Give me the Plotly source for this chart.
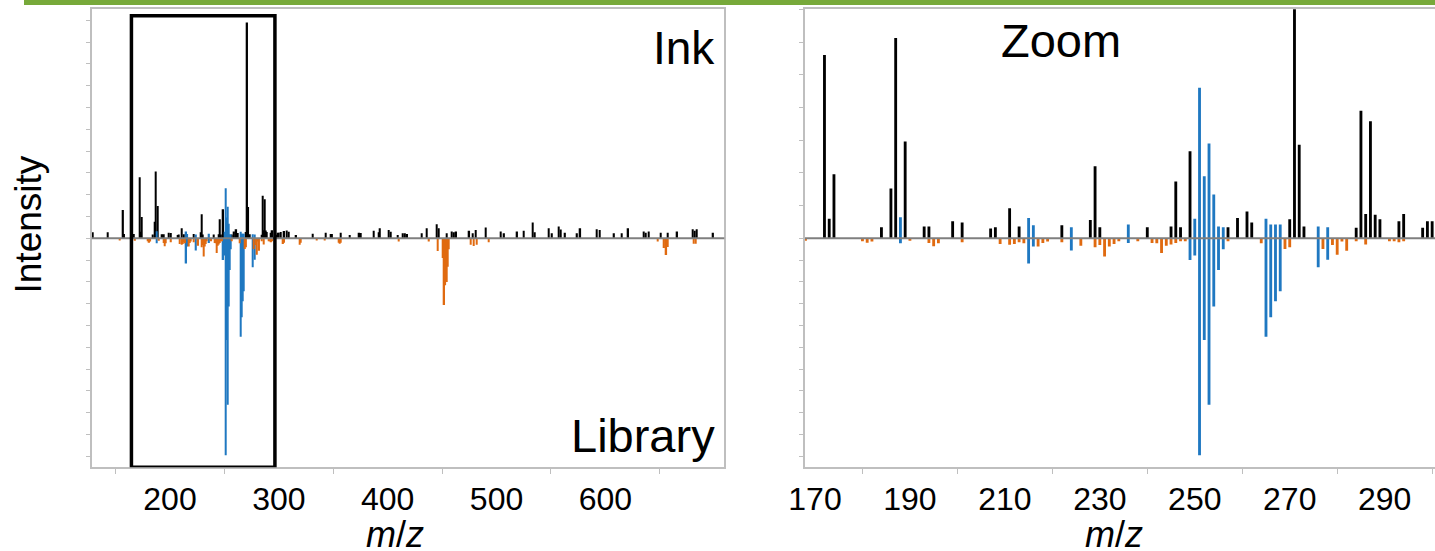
import plotly.graph_objects as go

# ink spectrum, peaks not found in the library (black)
ink_mz = [129, 143, 157, 158, 167, 172, 173, 174, 184, 186, 187, 189, 193, 194, 199, 201,
          207, 208, 211, 213, 222, 228, 229, 230, 240, 245, 246, 247, 249, 257, 259, 261,
          262, 270, 271, 272, 273, 284, 285, 286, 287, 288, 289, 293, 294, 298, 299,
          300, 302, 305, 307, 309, 316, 331, 343, 348, 349, 357, 365, 374, 375, 387, 392,
          393, 401, 403, 409, 414, 416, 418, 431, 436, 445, 447, 454, 459, 461, 463, 475,
          478, 481, 490, 504, 507, 519, 525, 533, 535, 548, 551, 557, 559, 563, 574, 577,
          592, 595, 608, 615, 621, 635, 637, 640, 651, 657, 666, 680, 682, 684, 699]
ink_int = [0.028, 0.028, 0.130, 0.020, 0.020, 0.280, 0.030, 0.098, 0.017, 0.076, 0.306, 0.148,
           0.018, 0.018, 0.026, 0.024, 0.015, 0.017, 0.046, 0.018, 0.020, 0.028, 0.110, 0.017,
           0.017, 0.018, 0.087, 0.017, 0.133, 0.017, 0.031, 0.041, 0.024, 0.029, 0.990, 0.143,
           0.018, 0.016, 0.195, 0.037, 0.179, 0.036, 0.029, 0.026, 0.037, 0.016, 0.026,
           0.026, 0.029, 0.033, 0.036, 0.030, 0.015, 0.021, 0.025, 0.020, 0.020, 0.026, 0.015,
           0.025, 0.024, 0.035, 0.028, 0.046, 0.038, 0.030, 0.015, 0.023, 0.023, 0.020, 0.023,
           0.046, 0.064, 0.046, 0.023, 0.031, 0.028, 0.031, 0.035, 0.023, 0.038, 0.049, 0.031,
           0.023, 0.031, 0.035, 0.072, 0.028, 0.046, 0.023, 0.054, 0.040, 0.025, 0.023, 0.046,
           0.041, 0.038, 0.023, 0.023, 0.046, 0.031, 0.025, 0.031, 0.026, 0.026, 0.031, 0.041,
           0.035, 0.041, 0.026]

# peaks shared by ink and library (blue)
match_mz = [188, 215, 216, 224, 236, 249, 250, 251, 252, 253, 254, 255, 256, 265, 266, 267,
            268, 276, 278]
match_ink = [0.032, 0.031, 0.020, 0.017, 0.021, 0.0, 0.030, 0.230, 0.095, 0.145, 0.067, 0.018,
             0.017, 0.030, 0.021, 0.021, 0.021, 0.018, 0.017]
match_lib = [0.023, 0.115, 0.038, 0.056, 0.022, 0.099, 0.079, 0.995, 0.466, 0.763, 0.313, 0.145,
             0.050, 0.451, 0.362, 0.289, 0.243, 0.133, 0.098]

# library peaks not found in the ink (orange)
lib_mz = [154, 168, 180, 181, 182, 190, 194, 195, 196, 201, 209, 211, 212, 213, 214, 217, 218,
          219, 222, 226, 229, 230, 231, 232, 233, 234, 238, 241, 242, 243, 244, 245, 246, 247,
          248, 257, 264, 269, 270, 277, 279, 280, 281, 282, 284, 286, 291, 292, 293, 294,
          304, 305, 319, 320, 335, 342, 355, 356, 357, 410, 438, 446, 451, 452, 453, 454, 455,
          456, 476, 479, 482, 493, 648, 654, 656, 657, 681, 683]
lib_int = [0.010, 0.011, 0.014, 0.020, 0.015, 0.011, 0.021, 0.037, 0.023, 0.018, 0.026, 0.030,
           0.026, 0.018, 0.023, 0.038, 0.021, 0.015, 0.018, 0.034, 0.041, 0.031, 0.084, 0.038,
           0.026, 0.014, 0.014, 0.021, 0.023, 0.067, 0.034, 0.028, 0.021, 0.014, 0.014, 0.014,
           0.023, 0.049, 0.041, 0.049, 0.031, 0.075, 0.015, 0.057, 0.014, 0.029, 0.014, 0.014,
           0.018, 0.014, 0.026, 0.020, 0.030, 0.020, 0.010, 0.010, 0.020, 0.025, 0.020, 0.015,
           0.015, 0.058, 0.090, 0.306, 0.215, 0.200, 0.130, 0.050, 0.030, 0.035, 0.030, 0.018,
           0.015, 0.045, 0.077, 0.040, 0.025, 0.025]

full_ticks = [200, 300, 400, 500, 600]
zoom_ticks = [170, 190, 210, 230, 250, 270, 290]
zoom_box = [164.6, 296.4]
zoom_gain = 3.0   # ink side of the zoom panel is scaled up

BLACK = '#000000'
BLUE = '#1f78c1'
ORANGE = '#e06a10'
FRAME = '#bfbfbf'
FONT = 'Liberation Sans, Arial, sans-serif'

W, H = 1435, 551


def px_x(p):
    return p / W


def px_y(p):
    return 1 - p / H


fig = go.Figure()

for ax, gain, bw in [('', 1.0, 1.3), ('2', zoom_gain, 0.6)]:
    xa, ya = 'x' + ax, 'y' + ax
    fig.add_trace(go.Bar(x=ink_mz, y=[v * gain for v in ink_int], width=bw,
                         marker=dict(color=BLACK, line_width=0), xaxis=xa, yaxis=ya))
    fig.add_trace(go.Bar(x=match_mz, y=[v * gain for v in match_ink], width=bw,
                         marker=dict(color=BLUE, line_width=0), xaxis=xa, yaxis=ya))
    fig.add_trace(go.Bar(x=match_mz, y=[-v for v in match_lib], width=bw,
                         marker=dict(color=BLUE, line_width=0), xaxis=xa, yaxis=ya))
    fig.add_trace(go.Bar(x=lib_mz, y=[-v for v in lib_int], width=bw,
                         marker=dict(color=ORANGE, line_width=0), xaxis=xa, yaxis=ya))

y_dom = [px_y(467.3), px_y(9.3)]
yticks_full = [round(i * 0.1, 2) for i in range(-10, 11)]
yticks_zoom = [round(-i * 0.1, 2) for i in range(1, 11)] + [round(i * 0.05 * zoom_gain, 3) for i in range(0, 8)]

axis_common = dict(showline=True, linecolor=FRAME, linewidth=1.5,
                   showgrid=False, zeroline=False, automargin=False)

fig.update_layout(
    width=W, height=H,
    template='none',
    paper_bgcolor='white', plot_bgcolor='white',
    margin=dict(l=0, r=0, t=0, b=0),
    barmode='overlay', showlegend=False,
    font=dict(family=FONT, color='black'),
    xaxis=dict(domain=[px_x(91.7), px_x(724.3)], range=[128.1, 709.2], anchor='y',
               tickmode='array', tickvals=full_ticks, ticks='', mirror=True,
               tickfont=dict(size=32), ticklabelstandoff=3,
               minor=dict(tickmode='array', tickvals=[150, 250, 350, 450, 550, 650],
                          ticks='outside', ticklen=5, tickcolor=FRAME),
               **axis_common),
    yaxis=dict(domain=y_dom, range=[-1.05, 1.05], anchor='x', mirror=True,
               tickmode='array', tickvals=yticks_full, showticklabels=False,
               ticks='outside', ticklen=4, tickcolor=FRAME, **axis_common),
    xaxis2=dict(domain=[px_x(805), 1.0], range=[167.9, 300.6], anchor='y2',
                tickmode='array', tickvals=zoom_ticks, ticks='', mirror=True,
                tickfont=dict(size=32), ticklabelstandoff=3,
                minor=dict(tickmode='array', tickvals=[180, 200, 220, 240, 260, 280, 300],
                           ticks='outside', ticklen=5, tickcolor=FRAME),
                **axis_common),
    yaxis2=dict(domain=y_dom, range=[-1.05, 1.05], anchor='x2', mirror=False,
                tickmode='array', tickvals=yticks_zoom, showticklabels=False,
                ticks='outside', ticklen=4, tickcolor=FRAME, **axis_common),
)

# baselines drawn over the bars
for ax in ['', '2']:
    fig.add_shape(type='line', xref='x' + ax + ' domain', yref='y' + ax,
                  x0=0, x1=1, y0=0, y1=0, line=dict(color='#7f7f7f', width=2), layer='above')

# zoom window on the full spectrum
fig.add_shape(type='rect', xref='x', yref='y', x0=zoom_box[0], x1=zoom_box[1],
              y0=-1.05, y1=1.02, line=dict(color='black', width=3.5), layer='above')

# green banner strip at the top
fig.add_shape(type='rect', xref='paper', yref='paper', x0=px_x(24), x1=1,
              y0=px_y(5), y1=1, fillcolor='#77a93a', line_width=0, layer='above')


def label(text, x, y, size, **kw):
    fig.add_annotation(text=text, x=px_x(x), y=px_y(y), xref='paper', yref='paper',
                       showarrow=False, yanchor='middle',
                       font=dict(family=FONT, color='black', size=size), **kw)


label('Ink', 717, 48, 46, xanchor='right')
label('Library', 717, 435, 47, xanchor='right')
label('Zoom', 1061, 40, 47, xanchor='center')
label('Intensity', 27.5, 225, 37, xanchor='center', textangle=-90)
for cx in [395, 1114]:
    label('<i>m</i>/<i>z</i>', cx, 534, 36, xanchor='center')

fig.write_html('out.html', config={'displayModeBar': False},
               post_script="document.body.style.margin='0';")
